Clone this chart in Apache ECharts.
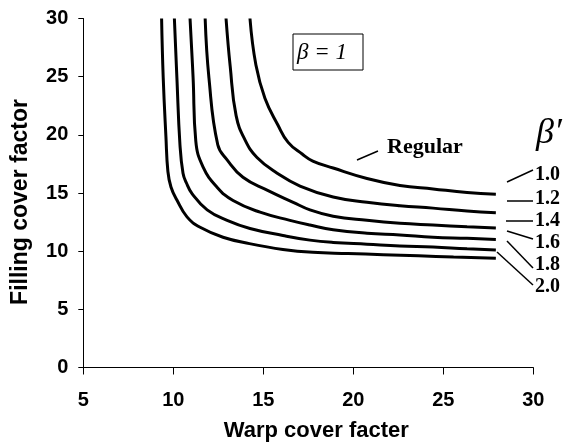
<!DOCTYPE html>
<html>
<head>
<meta charset="utf-8">
<script src="https://cdn.jsdelivr.net/npm/echarts@6/dist/echarts.min.js"></script>
<style>
  html, body { margin: 0; padding: 0; background: #fff; }
  #chart { width: 571px; height: 448px; }
</style>
</head>
<body>
<div id="chart"></div>
<script>
// warp / filling cover factor curves for each beta'
const warp10 = [14.26, 14.59, 15.09, 15.81, 16.38, 17.16, 17.75, 18.88, 20.76, 22.59, 24.43, 26.32, 27.92];
const fill10 = [30, 26.0, 23.15, 20.85, 19.35, 18.35, 17.75, 17.15, 16.25, 15.65, 15.35, 15.05, 14.9];

const warp12 = [12.93, 13.16, 13.49, 13.99, 14.65, 15.77, 17.04, 18.88, 20.76, 22.59, 24.43, 26.32, 27.92];
const fill12 = [30, 25.9, 21.65, 19.55, 18.05, 16.7, 15.6, 14.65, 14.2, 13.9, 13.7, 13.45, 13.3];

const warp14 = [11.77, 11.98, 12.47, 12.99, 13.87, 15.21, 16.66, 17.59, 18.88, 20.76, 22.59, 24.43, 26.32, 27.92];
const fill14 = [30, 24.9, 19.15, 17.85, 16.35, 15.25, 14.2, 13.55, 13.0, 12.65, 12.4, 12.25, 12.1, 12.0];

const warp16 = [10.93, 11.10, 11.25, 11.65, 12.43, 13.32, 14.82, 16.48, 17.59, 18.88, 20.76, 22.59, 24.43, 26.32, 27.92];
const fill16 = [30, 24.9, 19.45, 17.25, 15.5, 14.35, 13.35, 12.65, 12.25, 11.85, 11.55, 11.4, 11.2, 11.1, 11.0];

const warp18 = [10.06, 10.20, 10.37, 10.54, 10.73, 11.04, 11.88, 12.99, 14.26, 16.09, 17.59, 18.88, 20.76, 22.59, 24.43, 26.32, 27.92];
const fill18 = [30, 24.9, 19.15, 16.7, 15.86, 14.95, 13.55, 12.65, 11.95, 11.35, 10.95, 10.75, 10.6, 10.45, 10.35, 10.2, 10.1];

const warp20 = [9.35, 9.44, 9.59, 9.70, 9.87, 10.20, 10.76, 11.49, 12.76, 14.23, 16.09, 17.75, 19.71, 21.66, 23.62, 25.57, 27.92];
const fill20 = [30, 24.9, 19.85, 16.85, 15.52, 14.4, 12.95, 12.05, 11.2, 10.65, 10.15, 9.9, 9.8, 9.7, 9.6, 9.5, 9.4];

const betaNames = ['1.0', '1.2', '1.4', '1.6', '1.8', '2.0'];
const warps = [warp10, warp12, warp14, warp16, warp18, warp20];
const fills = [fill10, fill12, fill14, fill16, fill18, fill20];

const sans = '"Liberation Sans", Arial, sans-serif';
const serif = '"Liberation Serif", "Times New Roman", serif';

const chart = echarts.init(document.getElementById('chart'));

const series = betaNames.map((name, i) => ({
  name: name,
  type: 'line',
  data: warps[i].map((x, j) => [x, fills[i][j]]),
  smooth: 0.45,
  symbol: 'none',
  lineStyle: { color: '#000', width: 3 },
  z: 3,
}));

// leader lines next to the labels
const leader = (x1, y1, x2, y2) => ({
  type: 'line',
  shape: { x1, y1, x2, y2 },
  style: { stroke: '#000', lineWidth: 1.5 },
});
const label = (text, x, y, size) => ({
  type: 'text',
  x, y,
  style: { text, fill: '#000', font: `bold ${size}px ${serif}`, verticalAlign: 'middle' },
});

const options = {
  animation: false,
  backgroundColor: '#fff',
  grid: { left: 83.3, right: 37.7, top: 18.5, bottom: 80.5 },
  xAxis: {
    type: 'value',
    min: 5,
    max: 30,
    interval: 5,
    name: 'Warp cover facter',
    nameLocation: 'middle',
    nameGap: 52,
    nameTextStyle: {
      fontFamily: sans, fontWeight: 'bold', fontSize: 22, color: '#000',
      padding: [0, 0, 0, 16],
    },
    axisLine: { lineStyle: { color: '#000', width: 1 } },
    axisTick: { length: 7, lineStyle: { color: '#000' } },
    axisLabel: { fontFamily: sans, fontWeight: 'bold', fontSize: 20, color: '#000', margin: 23 },
    splitLine: { show: false },
  },
  yAxis: {
    type: 'value',
    min: 0,
    max: 30,
    interval: 5,
    name: 'Filling cover factor',
    nameLocation: 'middle',
    nameGap: 51,
    nameTextStyle: {
      fontFamily: sans, fontWeight: 'bold', fontSize: 23, color: '#000',
      padding: [0, 18, 0, 0],
    },
    axisLine: { show: true, lineStyle: { color: '#000', width: 1 } },
    axisTick: { show: true, length: 5, lineStyle: { color: '#000' } },
    axisLabel: { fontFamily: sans, fontWeight: 'bold', fontSize: 20, color: '#000', margin: 15 },
    splitLine: { show: false },
  },
  series: series,
  graphic: [
    {
      type: 'rect',
      shape: { x: 293, y: 34, width: 70, height: 36 },
      style: { fill: 'none', stroke: '#000', lineWidth: 1 },
    },
    {
      type: 'text',
      x: 297, y: 53,
      style: { text: 'β = 1', fill: '#000', font: `italic 23px ${serif}`, verticalAlign: 'middle' },
    },
    label('Regular', 387, 147, 22),
    leader(357, 160, 378, 151),
    {
      type: 'text',
      x: 536, y: 134,
      style: { text: 'β′', fill: '#000', font: `italic 36px ${serif}`, verticalAlign: 'middle' },
    },
    label('1.0', 535, 175, 20),
    label('1.2', 535, 199, 20),
    label('1.4', 535, 221, 20),
    label('1.6', 535, 243, 20),
    label('1.8', 535, 265, 20),
    label('2.0', 535, 287, 20),
    leader(507, 182, 533, 170),
    leader(507, 201, 533, 201),
    leader(506, 221, 533, 221),
    leader(507, 231, 533, 239),
    leader(507, 241, 533, 268),
    leader(497, 252, 533, 285),
  ],
};

chart.setOption(options);
</script>
</body>
</html>
